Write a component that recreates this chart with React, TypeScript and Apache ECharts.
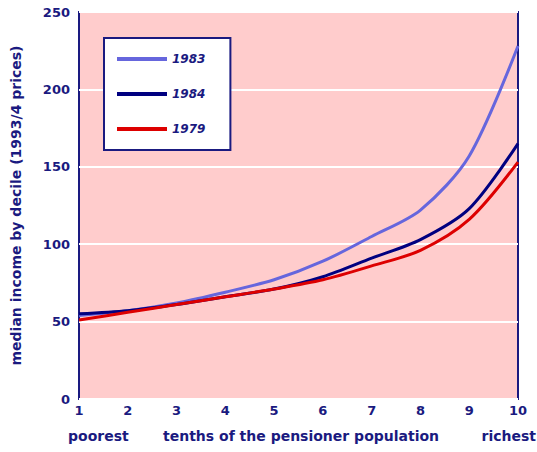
import React, { useEffect, useRef } from "react";
import * as echarts from "echarts";

const deciles = [1, 2, 3, 4, 5, 6, 7, 8, 9, 10];
const seriesNames = ["1983", "1984", "1979"];
const values1983 = [54, 57, 62, 69, 77, 89, 105, 122, 157, 228];
const values1984 = [55, 57, 61, 66, 71, 79, 91, 103, 123, 165];
const values1979 = [51, 56, 61, 66, 71, 77, 86, 96, 116, 153];
const yTicks = [0, 50, 100, 150, 200, 250];

const navy = "#1a1a80";
const font = "'DejaVu Sans', sans-serif";

export default function App() {
  const ref = useRef<HTMLDivElement>(null);
  useEffect(() => {
    document.body.style.margin = "0";
    const chart = echarts.init(ref.current!, null, { renderer: "svg" });
    const mk = (arr: number[]) => deciles.map((d, i) => [d, arr[i]]);
    chart.setOption({
      animation: false,
      backgroundColor: "#ffffff",
      grid: {
        left: 79,
        right: 19,
        top: 12,
        bottom: 53,
        outerBoundsMode: "none",
        show: true,
        backgroundColor: "#ffcccc",
        borderColor: navy,
        borderWidth: 2,
      },
      legend: {
        orient: "vertical",
        left: 104,
        top: 38,
        data: seriesNames,
        backgroundColor: "#ffffff",
        borderColor: navy,
        borderWidth: 2,
        padding: [14, 25, 14, 13],
        itemGap: 21,
        icon: "rect",
        itemWidth: 50,
        itemHeight: 4,
        textStyle: { color: navy, fontFamily: font, fontSize: 12, fontStyle: "italic", fontWeight: "bold", lineHeight: 14 },
      },
      xAxis: {
        type: "value",
        min: 1,
        max: 10,
        interval: 1,
        axisLine: { show: false },
        axisTick: { show: false },
        splitLine: { show: false },
        axisLabel: { color: navy, fontFamily: font, fontSize: 13, fontWeight: "bold", margin: 5 },
      },
      yAxis: {
        type: "value",
        min: yTicks[0],
        max: yTicks[yTicks.length - 1],
        interval: 50,
        name: "median income by decile (1993/4 prices)",
        nameLocation: "middle",
        nameRotate: 90,
        nameGap: 56,
        nameTextStyle: { color: navy, fontFamily: font, fontSize: 14, fontWeight: "bold" },
        axisLine: { show: false },
        axisTick: { show: false },
        splitLine: { show: true, lineStyle: { color: "#ffffff", width: 2 } },
        axisLabel: { color: navy, fontFamily: font, fontSize: 13, fontWeight: "bold", margin: 9 },
      },
      graphic: [
        { type: "text", left: 68, top: 429, style: { text: "poorest", fill: navy, font: `bold 14px ${font}` } },
        { type: "text", left: 163, top: 429, style: { text: "tenths of the pensioner population", fill: navy, font: `bold 14px ${font}` } },
        { type: "text", right: 1, top: 429, style: { text: "richest", fill: navy, font: `bold 14px ${font}` } },
      ],
      series: [
        { name: "1983", type: "line", smooth: 0.3, symbol: "none", data: mk(values1983), lineStyle: { width: 3, color: "#6666dd" }, itemStyle: { color: "#6666dd" } },
        { name: "1984", type: "line", smooth: 0.3, symbol: "none", data: mk(values1984), lineStyle: { width: 3, color: "#000080" }, itemStyle: { color: "#000080" } },
        { name: "1979", type: "line", smooth: 0.3, symbol: "none", data: mk(values1979), lineStyle: { width: 3, color: "#dd0000" }, itemStyle: { color: "#dd0000" } },
      ],
    });
    return () => chart.dispose();
  }, []);
  return <div ref={ref} style={{ width: 537, height: 452 }} />;
}
